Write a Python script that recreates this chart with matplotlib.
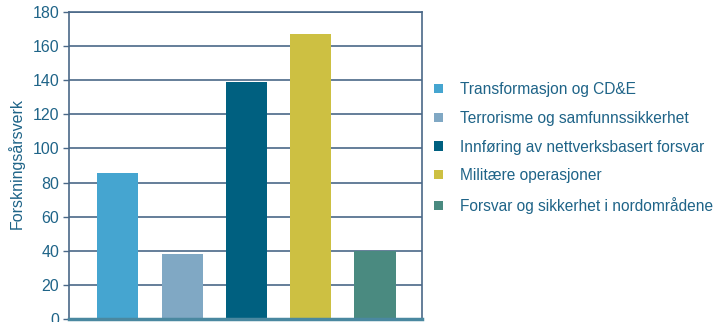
import numpy as np
import matplotlib.pyplot as plt
from matplotlib.patches import Patch

plt.rcParams['font.family'] = ['Liberation Sans', 'DejaVu Sans']

categories = ['Transformasjon og CD&E', 'Terrorisme og samfunnssikkerhet',
              'Innføring av nettverksbasert forsvar', 'Militære operasjoner',
              'Forsvar og sikkerhet i nordområdene']
values = [85.5, 38, 139, 167, 40]
colors = ['#45a5d0', '#80a8c4', '#006080', '#cdc042', '#4a8a80']
yticks = [0, 20, 40, 60, 80, 100, 120, 140, 160, 180]

textcol = '#1f6488'
gridcol = '#4a6888'

fig = plt.figure(figsize=(7.28, 3.22), dpi=100)
ax = fig.add_axes([69/728, 3/322, 353/728, 307/322])

x = np.arange(len(values))
ax.bar(x, values, width=0.64, color=colors, zorder=3)

ax.set_xlim(-0.76, 4.73)
ax.set_ylim(0, 180)
ax.set_yticks(yticks)
ax.set_xticks([])
ax.yaxis.grid(True, color=gridcol, linewidth=1.2, zorder=0)
ax.tick_params(axis='y', colors=gridcol, labelcolor=textcol, labelsize=11.5,
               length=4, width=1, direction='out', pad=3)
for s in ['left', 'right', 'top']:
    ax.spines[s].set_color(gridcol)
    ax.spines[s].set_linewidth(1.2)
ax.spines['bottom'].set_color('#4a88a0')
ax.spines['bottom'].set_linewidth(2.5)
ax.spines['bottom'].set_zorder(4)

ax.set_ylabel('Forskningsårsverk', color=textcol, fontsize=11.5)
ax.yaxis.set_label_coords(-0.125, 0.505)

handles = [Patch(facecolor=c, edgecolor='none') for c in colors]
fig.legend(handles, categories, loc='upper left', bbox_to_anchor=(428/728, 1 - 76/322),
           frameon=False, fontsize=11.2, labelcolor=textcol, handlelength=0.55,
           handleheight=0.55, handletextpad=1.1, labelspacing=0.88, borderaxespad=0)

fig.savefig('out.png', dpi=100)
